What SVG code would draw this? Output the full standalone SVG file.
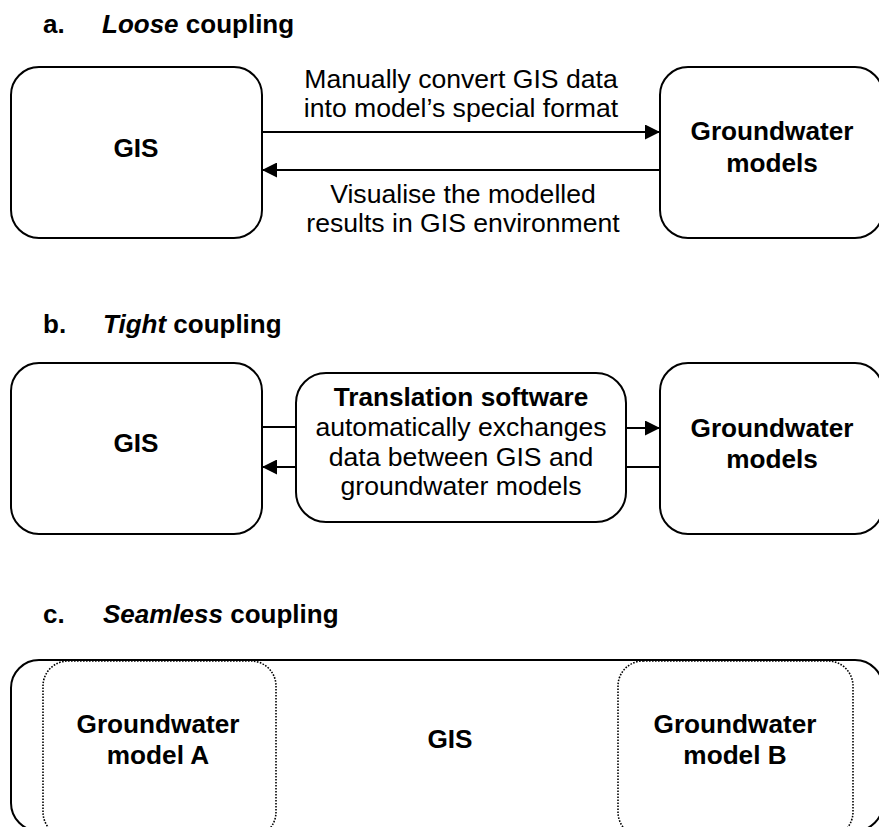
<svg xmlns="http://www.w3.org/2000/svg" width="879" height="827" viewBox="0 0 879 827">
<defs>
<style>
text{font-family:"Liberation Sans",Arial,sans-serif;fill:#000}
.t{font-size:26px;font-weight:bold}
.b{font-size:26.2px;font-weight:bold;text-anchor:middle}
.r{font-size:26.6px;text-anchor:middle}
.box{fill:#fff;stroke:#000;stroke-width:2}
.dot{fill:none;stroke:#000;stroke-width:1.6;stroke-dasharray:1.6 1.4}
.ln{fill:none;stroke:#000;stroke-width:2}
</style>
<marker id="ah" markerUnits="userSpaceOnUse" markerWidth="15" markerHeight="15" refX="15" refY="7.5" orient="auto">
<path d="M0,0 L15,7.5 L0,15 Z" fill="#000"/>
</marker>
</defs>
<rect width="879" height="827" fill="#fff"/>

<g id="title-a"><text class="t" x="43" y="33">a.<tspan x="102" font-style="italic">Loose</tspan> coupling</text></g>
<g id="title-b"><text class="t" x="43" y="333">b.<tspan x="103" font-style="italic">Tight</tspan> coupling</text></g>
<g id="title-c"><text class="t" x="43" y="623">c.<tspan x="103" font-style="italic">Seamless</tspan> coupling</text></g>

<!-- a -->
<g id="a-gis"><rect class="box" x="11" y="67" width="251" height="171" rx="28"/><text class="b" x="136" y="157">GIS</text></g>
<g id="a-gw"><rect class="box" x="660" y="67" width="223" height="171" rx="28"/><text class="b" x="772" y="140">Groundwater</text><text class="b" x="772" y="172">models</text></g>

<!-- b -->
<g id="b-gis"><rect class="box" x="11" y="363" width="251" height="171" rx="28"/><text class="b" x="136" y="452">GIS</text></g>
<g id="b-trans"><rect class="box" x="296" y="373" width="330" height="149" rx="30"/>
<text class="b" x="461" y="406">Translation software</text>
<text class="r" x="461" y="436">automatically exchanges</text>
<text class="r" x="461" y="466">data between GIS and</text>
<text class="r" x="461" y="495">groundwater models</text></g>
<g id="b-gw"><rect class="box" x="660" y="363" width="223" height="171" rx="28"/><text class="b" x="772" y="437">Groundwater</text><text class="b" x="772" y="468">models</text></g>

<!-- c -->
<g id="c-gis"><rect class="box" x="11" y="660" width="872" height="171" rx="28"/><text class="b" x="450" y="748">GIS</text></g>
<g id="c-gwa"><rect class="dot" x="43" y="661" width="233" height="176" rx="25"/><text class="b" x="158" y="733">Groundwater</text><text class="b" x="158" y="764">model A</text></g>
<g id="c-gwb"><rect class="dot" x="618" y="661" width="235" height="176" rx="25"/><text class="b" x="735" y="733">Groundwater</text><text class="b" x="735" y="764">model B</text></g>

<g id="connectors">
<line class="ln" x1="262" y1="132" x2="660" y2="132" marker-end="url(#ah)"/>
<line class="ln" x1="660" y1="170" x2="262" y2="170" marker-end="url(#ah)"/>
<line class="ln" x1="262" y1="427" x2="296" y2="427" stroke-width="1.4"/>
<line class="ln" x1="296" y1="467" x2="262" y2="467" marker-end="url(#ah)"/>
<line class="ln" x1="626" y1="428" x2="660" y2="428" marker-end="url(#ah)"/>
<line class="ln" x1="660" y1="467" x2="626" y2="467"/>
</g>

<g id="labels-a">
<text class="r" x="461" y="88">Manually convert GIS data</text>
<text class="r" x="461" y="117">into model’s special format</text>
<text class="r" x="463" y="203">Visualise the modelled</text>
<text class="r" x="463" y="232">results in GIS environment</text>
</g>
</svg>
